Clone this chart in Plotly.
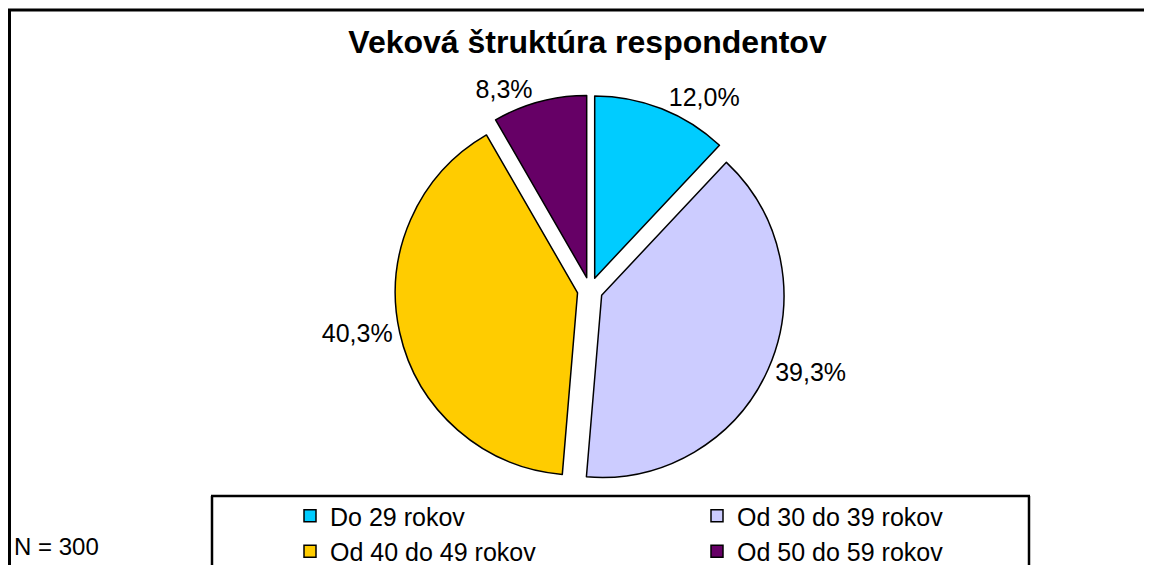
import plotly.graph_objects as go

categories = ["Do 29 rokov", "Od 30 do 39 rokov", "Od 40 do 49 rokov", "Od 50 do 59 rokov"]
counts = [36, 118, 121, 25]  # N = 300 -> 12,0 % / 39,3 % / 40,3 % / 8,3 %
colors = ["#00CCFF", "#CCCCFF", "#FFCC00", "#660066"]
title_text = "Veková štruktúra respondentov"
note_text = "N = 300"

# page has an 8 px body margin; figure sized to fit the 1152x573 window exactly
OFF = 8
W, H = 1152 - 2 * OFF, 573 - 2 * OFF
FONT = "Liberation Sans, Arial, sans-serif"


def px(x):
    return (x - OFF) / W


def py(y):
    return 1 - (y - OFF) / H


def seg(x0, y0, x1, y1, width):
    return dict(type="line", xref="paper", yref="paper",
                x0=px(x0), y0=py(y0), x1=px(x1), y1=py(y1),
                line=dict(color="black", width=width), layer="above")


fig = go.Figure()
fig.add_trace(go.Pie(
    labels=categories,
    values=counts,
    sort=False,
    direction="clockwise",
    rotation=0,
    pull=[0.07, 0.07, 0.07, 0.07],
    marker=dict(colors=colors, line=dict(color="black", width=1.5)),
    textposition="outside",
    texttemplate="%{percent:.1%}",
    textfont=dict(family=FONT, size=25, color="black"),
    domain=dict(x=[px(150), px(1030)], y=[py(485), py(95)]),
    showlegend=True,
))

fig.update_layout(
    width=W, height=H,
    margin=dict(l=0, r=0, t=0, b=0, autoexpand=False),
    paper_bgcolor="white",
    plot_bgcolor="white",
    separators=", ",
    font=dict(family=FONT, color="black"),
    title=dict(text="<b>" + title_text + "</b>", x=0.5 * (px(345) + px(830)), xanchor="center",
               yref="container", y=py(42), yanchor="middle",
               font=dict(size=32, family=FONT, color="black")),
    legend=dict(
        orientation="h",
        xref="container", yref="container",
        x=px(290), xanchor="left",
        y=py(493), yanchor="top",
        entrywidth=362, entrywidthmode="pixels",
        itemwidth=30,
        font=dict(size=25, family=FONT, color="black"),
        bgcolor="rgba(0,0,0,0)",
        borderwidth=0,
        traceorder="normal",
    ),
    shapes=[
        # outer chart frame (left and top edges visible)
        seg(9.5, 10, 9.5, 580, 3),
        seg(8, 10, 1160, 10, 3),
        # legend frame
        seg(212, 496, 212, 580, 2.5),
        seg(211, 496, 1030, 496, 2.5),
        seg(1029, 496, 1029, 580, 2.5),
    ],
    annotations=[
        dict(text=note_text, xref="paper", yref="paper", x=px(12), y=py(546),
             xanchor="left", yanchor="middle", showarrow=False,
             font=dict(size=24, family=FONT, color="black")),
    ],
)

fig.write_html("out.html")
